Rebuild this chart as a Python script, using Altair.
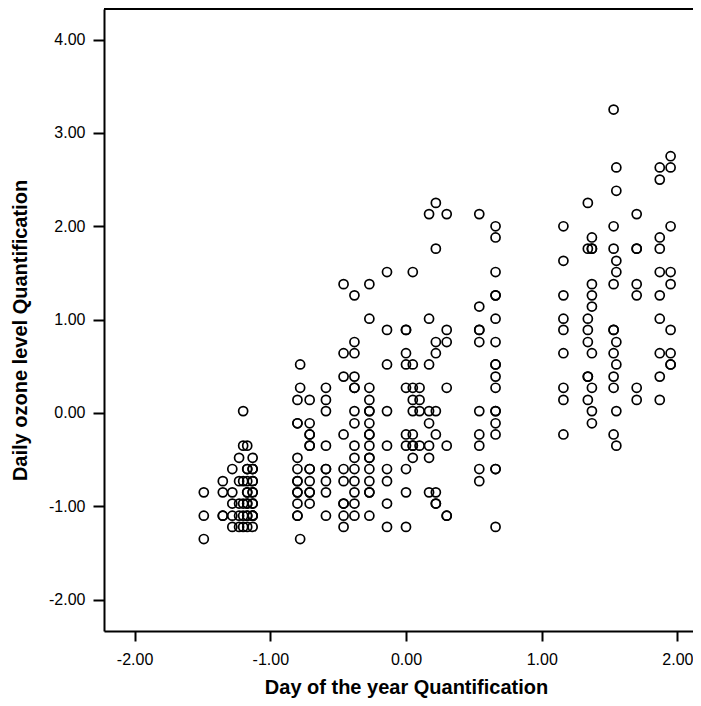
import altair as alt
import pandas as pd

# x positions (Day of the year Quantification) of each vertical column of points
day_quant = [-1.49, -1.35, -1.28, -1.23, -1.20, -1.17, -1.13,
             -0.80, -0.78, -0.71, -0.59, -0.46, -0.38, -0.27, -0.14,
             0.00, 0.05, 0.10, 0.17, 0.22, 0.30, 0.54, 0.66,
             1.16, 1.34, 1.37, 1.53, 1.55, 1.70, 1.87, 1.95]

# y values (Daily ozone level Quantification) for each column
ozone_quant = [
    [-1.35, -1.10, -0.85],
    [-0.73, -0.85, -1.10, -1.10],
    [-0.60, -0.85, -0.97, -1.10, -1.22],
    [-0.48, -0.73, -0.97, -1.10, -1.22],
    [0.02, -0.35, -0.73, -0.97, -1.10, -1.22],
    [-0.35, -0.60, -0.60, -0.73, -0.85, -0.85, -0.97, -0.97, -1.10, -1.10, -1.22],
    [-0.48, -0.60, -0.60, -0.73, -0.73, -0.85, -0.85, -0.97, -0.97, -1.10, -1.10, -1.10, -1.22],
    [0.14, -0.11, -0.11, -0.48, -0.60, -0.73, -0.73, -0.85, -0.85, -0.97, -1.10, -1.10],
    [0.52, 0.27, -1.35],
    [0.14, -0.11, -0.23, -0.23, -0.35, -0.35, -0.60, -0.60, -0.73, -0.85, -0.85, -0.97],
    [0.27, 0.14, 0.02, -0.35, -0.60, -0.60, -0.73, -0.85, -1.10],
    [1.38, 0.64, 0.39, -0.23, -0.60, -0.73, -0.97, -0.97, -1.10, -1.22],
    [1.26, 0.76, 0.64, 0.39, 0.27, 0.27, 0.02, -0.11, -0.35, -0.48, -0.60, -0.73, -0.85, -0.97, -1.10],
    [1.38, 1.01, 0.27, 0.14, 0.02, 0.02, -0.11, -0.23, -0.23, -0.35, -0.48, -0.48, -0.60, -0.73, -0.85, -0.85, -1.10],
    [1.51, 0.89, 0.52, 0.02, -0.35, -0.60, -0.73, -0.97, -1.22],
    [0.89, 0.89, 0.64, 0.52, 0.27, -0.23, -0.35, -0.60, -0.85, -1.22],
    [1.51, 0.52, 0.27, 0.14, 0.02, -0.23, -0.35, -0.35, -0.48],
    [0.27, 0.14, 0.02, -0.35],
    [2.13, 1.01, 0.52, 0.02, -0.11, -0.35, -0.48, -0.85],
    [2.25, 1.76, 0.76, 0.64, 0.02, -0.23, -0.85, -0.97, -0.97],
    [2.13, 0.89, 0.76, 0.27, -0.35, -1.10, -1.10],
    [2.13, 1.14, 0.89, 0.89, 0.76, 0.02, -0.23, -0.35, -0.60, -0.73],
    [2.00, 1.88, 1.51, 1.26, 1.26, 1.01, 0.76, 0.52, 0.52, 0.39, 0.27, 0.02, 0.02, -0.11, -0.23, -0.60, -0.60, -1.22],
    [2.00, 1.63, 1.26, 1.01, 0.89, 0.64, 0.27, 0.14, -0.23],
    [2.25, 1.76, 1.01, 0.89, 0.76, 0.39, 0.39, 0.14],
    [1.88, 1.76, 1.76, 1.38, 1.26, 1.14, 0.64, 0.27, 0.02, -0.11],
    [3.25, 2.00, 1.76, 1.38, 0.89, 0.89, 0.64, 0.39, 0.27, -0.23],
    [2.63, 2.38, 1.63, 1.51, 0.76, 0.52, 0.02, -0.35],
    [2.13, 1.76, 1.76, 1.38, 1.26, 0.27, 0.14],
    [2.63, 2.50, 1.88, 1.76, 1.51, 1.26, 1.01, 0.64, 0.39, 0.14],
    [2.75, 2.63, 2.00, 1.51, 1.38, 0.89, 0.64, 0.52, 0.52],
]

x_ticks = [-2, -1, 0, 1, 2]
y_ticks = [-2, -1, 0, 1, 2, 3, 4]
x_domain = [-2.2255, 2.115]
y_domain = [-2.335, 4.327]

rows = [{"day": d, "ozone": o} for d, col in zip(day_quant, ozone_quant) for o in col]
df = pd.DataFrame(rows)

W, H = 589, 622
FONT = "Liberation Sans"
LABEL_EXPR = "(datum.value < 0 ? '-' : '') + format(abs(datum.value), '.2f')"

points = alt.Chart(df).mark_point(
    shape="circle", filled=False, color="black", size=82, strokeWidth=1.7, opacity=1
).encode(
    x=alt.X("day:Q",
            scale=alt.Scale(domain=x_domain, nice=False, zero=False),
            axis=alt.Axis(values=x_ticks, labelExpr=LABEL_EXPR,
                          title="Day of the year Quantification",
                          tickSize=10, labelPadding=10,
                          titleX=302, titleY=62, titleAlign="center",
                          titleBaseline="alphabetic")),
    y=alt.Y("ozone:Q",
            scale=alt.Scale(domain=y_domain, nice=False, zero=False),
            axis=alt.Axis(values=y_ticks, labelExpr=LABEL_EXPR,
                          title="Daily ozone level Quantification",
                          tickSize=11, labelPadding=8,
                          titleX=-84, titleY=321, titleAngle=270,
                          titleAlign="center", titleBaseline="middle")),
)

top_border = alt.Chart(pd.DataFrame({"a": [0]})).mark_rule(
    color="black", strokeWidth=2
).encode(x=alt.value(0), x2=alt.value(W), y=alt.value(0))

chart = alt.layer(points, top_border).properties(
    width=W, height=H,
    autosize=alt.AutoSizeParams(type="none"),
    padding={"left": 96, "top": 1, "right": 0, "bottom": 67},
).configure_view(stroke=None).configure_axis(
    grid=False,
    domainColor="black", domainWidth=2,
    tickColor="black", tickWidth=2,
    labelFont=FONT, labelFontSize=16, labelColor="black",
    titleFont=FONT, titleFontSize=20, titleFontWeight="bold", titleColor="black",
)

chart.save("out.html", embed_options={"renderer": "svg", "actions": False})
